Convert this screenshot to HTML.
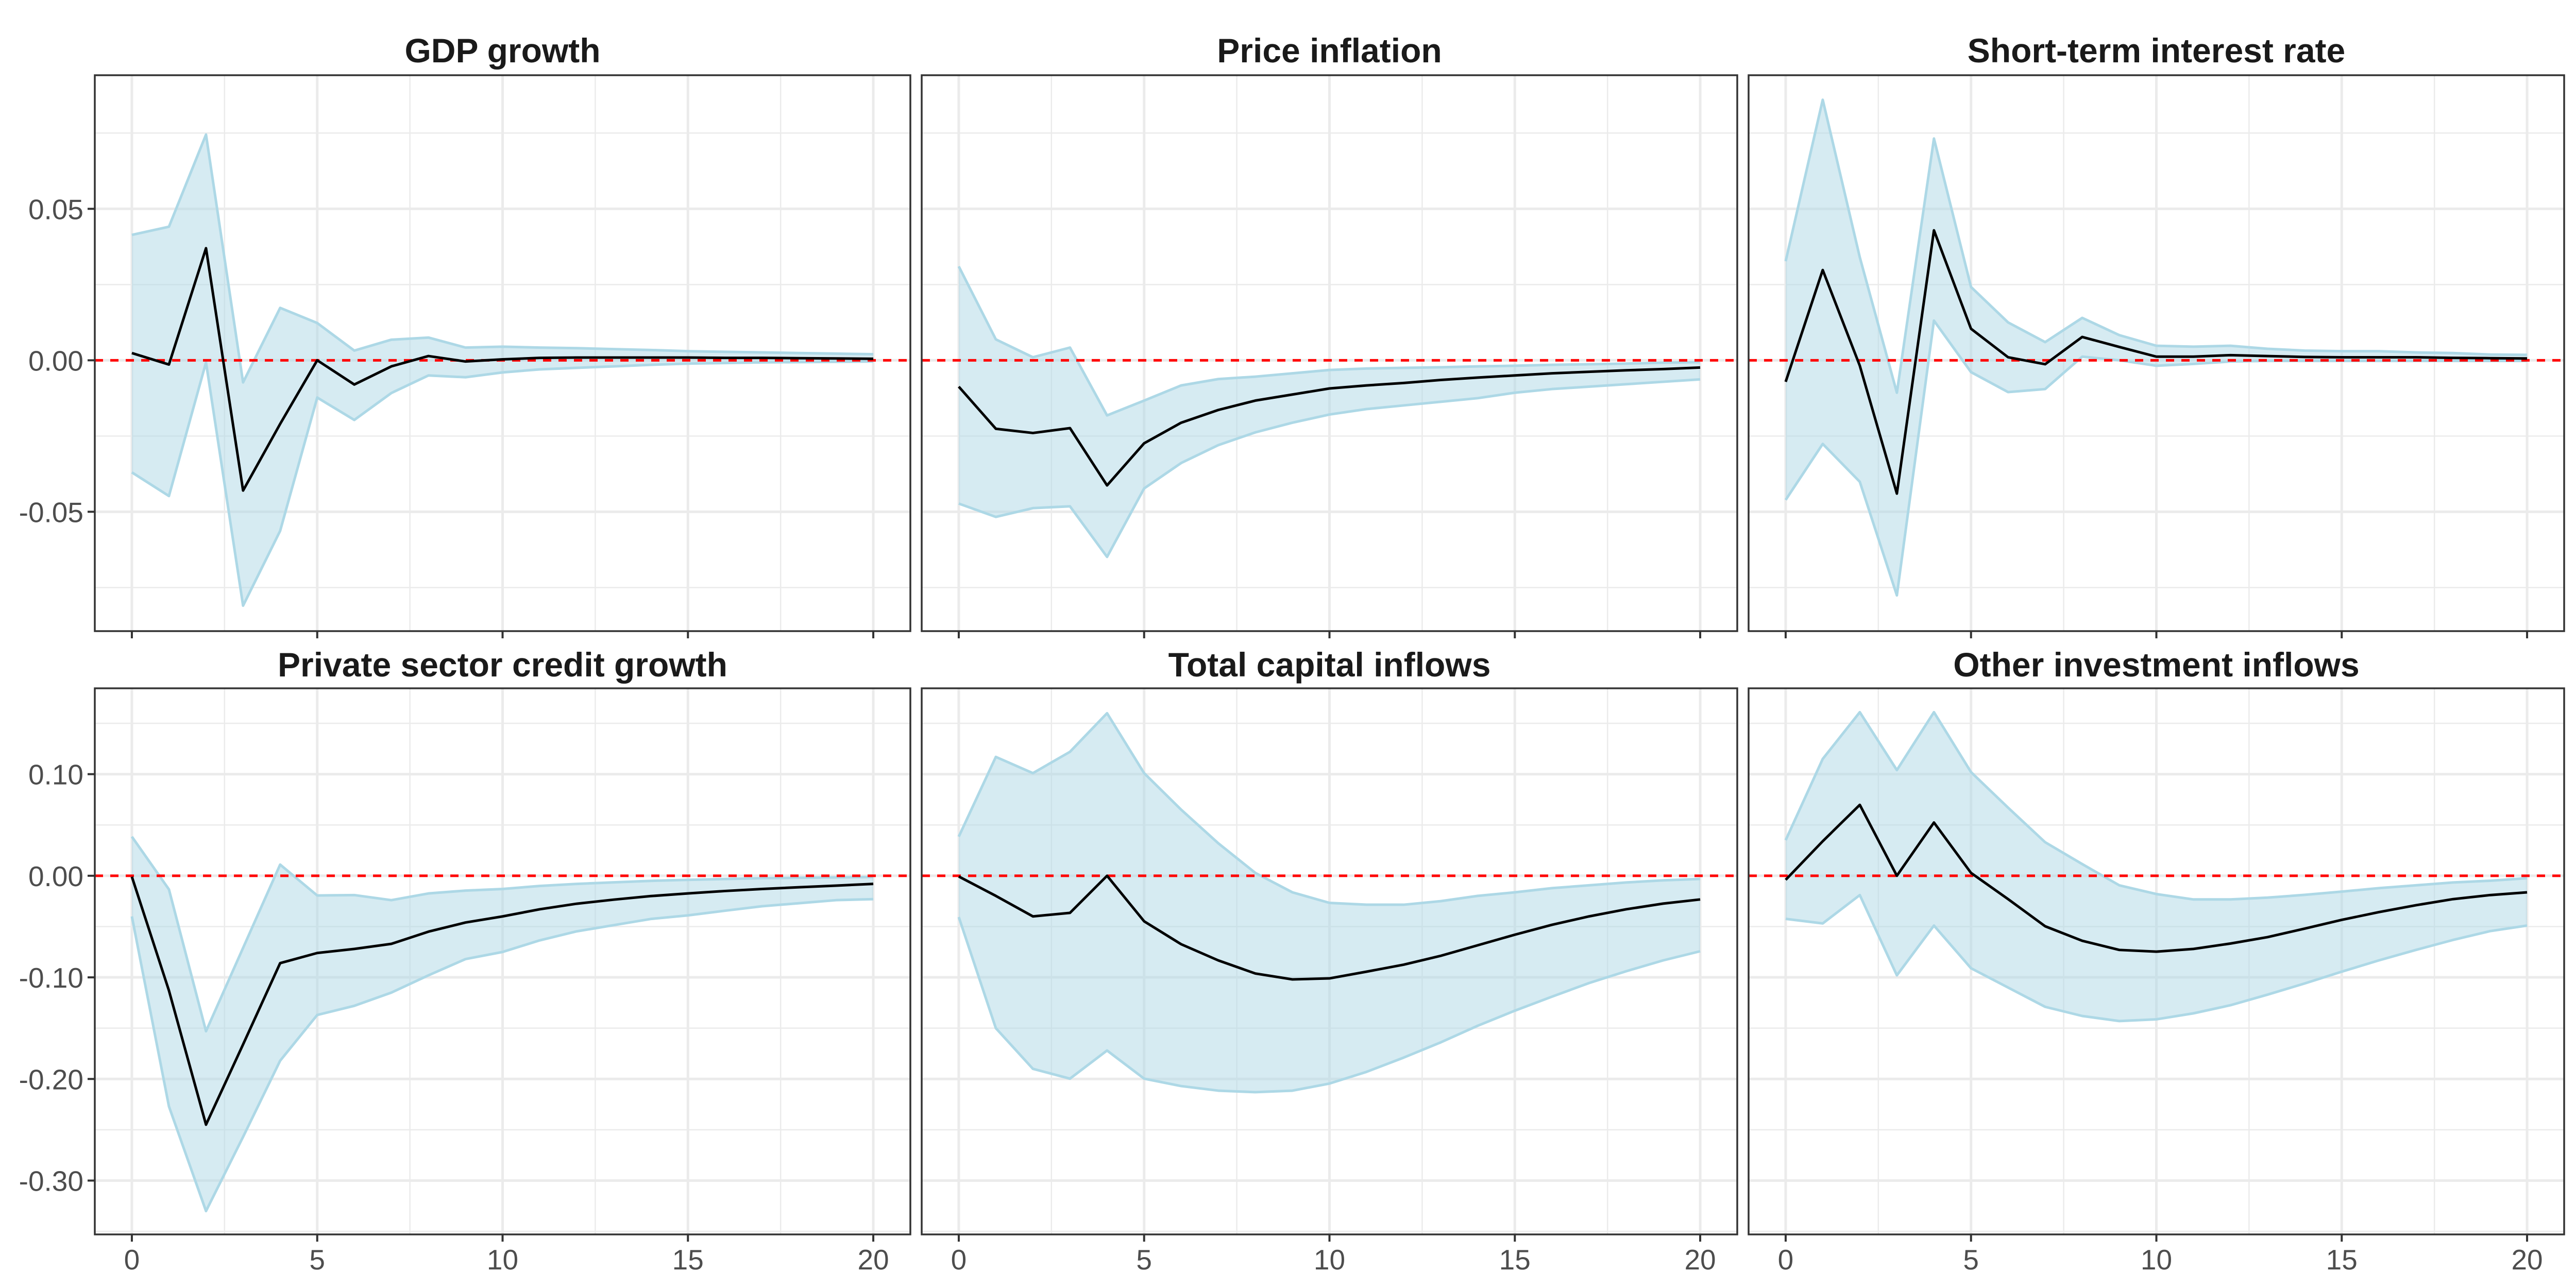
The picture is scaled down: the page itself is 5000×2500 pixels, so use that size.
<!DOCTYPE html>
<html><head><meta charset="utf-8"><style>
html,body{margin:0;padding:0;background:#fff;}
svg{display:block;}
</style></head><body>
<svg id="chart" width="5000" height="2500" viewBox="0 0 5000 2500" xmlns="http://www.w3.org/2000/svg" font-family="'Liberation Sans', sans-serif"></svg>
<script>
const horizons = [0,1,2,3,4,5,6,7,8,9,10,11,12,13,14,15,16,17,18,19,20];
const panelTitles = ["GDP growth","Price inflation","Short-term interest rate","Private sector credit growth","Total capital inflows","Other investment inflows"];
const xTicks = [0,5,10,15,20];
const xTickLabels = ["0","5","10","15","20"];
const topYTicks = [-0.05,0,0.05];
const topYTickLabels = ["-0.05","0.00","0.05"];
const bottomYTicks = [-0.3,-0.2,-0.1,0,0.1];
const bottomYTickLabels = ["-0.30","-0.20","-0.10","0.00","0.10"];

const gdpMid = [0.0024,-0.0014,0.037,-0.043,-0.021,0,-0.008,-0.002,0.0014,-0.0004,0.0003,0.0008,0.0009,0.0009,0.0009,0.0009,0.0008,0.0008,0.0007,0.0006,0.0005];
const gdpUp = [0.0414,0.0441,0.0745,-0.0073,0.0173,0.0123,0.0032,0.0068,0.0075,0.0042,0.0045,0.0042,0.004,0.0037,0.0034,0.003,0.0028,0.0026,0.0024,0.0022,0.002];
const gdpLo = [-0.037,-0.0448,-0.0007,-0.081,-0.0563,-0.0123,-0.0197,-0.0108,-0.005,-0.0056,-0.004,-0.003,-0.0025,-0.002,-0.0015,-0.0011,-0.0009,-0.0007,-0.0006,-0.0005,-0.0004];

const infMid = [-0.0087,-0.0226,-0.024,-0.0224,-0.0413,-0.0274,-0.0206,-0.0164,-0.0133,-0.0113,-0.0093,-0.0083,-0.0075,-0.0065,-0.0057,-0.005,-0.0043,-0.0038,-0.0033,-0.0029,-0.0024];
const infUp = [0.031,0.0069,0.001,0.0042,-0.0182,-0.0133,-0.0083,-0.0062,-0.0054,-0.0043,-0.0032,-0.0027,-0.0025,-0.0023,-0.002,-0.0018,-0.0015,-0.0013,-0.0011,-0.0008,-0.0006];
const infLo = [-0.0473,-0.0517,-0.0488,-0.0482,-0.0649,-0.0423,-0.0339,-0.028,-0.0238,-0.0206,-0.0179,-0.0161,-0.0149,-0.0137,-0.0125,-0.0107,-0.0095,-0.0087,-0.0079,-0.0071,-0.0063];

const rateMid = [-0.0071,0.0298,-0.0018,-0.044,0.0429,0.0104,0.001,-0.0013,0.0077,0.0044,0.0012,0.0012,0.0017,0.0014,0.0011,0.001,0.001,0.001,0.0008,0.0007,0.0006];
const rateUp = [0.0327,0.086,0.034,-0.0107,0.0732,0.0242,0.0125,0.006,0.014,0.0083,0.0048,0.0045,0.0048,0.0038,0.0032,0.003,0.003,0.0026,0.0024,0.0019,0.0018];
const rateLo = [-0.0461,-0.0276,-0.0401,-0.0776,0.0131,-0.0039,-0.0105,-0.0095,0.0012,0,-0.0018,-0.0012,-0.0004,-0.0002,-0.0002,-0.0002,-0.0002,-0.0002,-0.0002,-0.0002,-0.0002];

const creditMid = [-0.001,-0.113,-0.245,-0.166,-0.086,-0.076,-0.072,-0.067,-0.055,-0.046,-0.040,-0.033,-0.0275,-0.0235,-0.020,-0.0174,-0.015,-0.013,-0.0113,-0.0097,-0.008];
const creditUp = [0.0385,-0.0134,-0.153,-0.071,0.011,-0.0194,-0.019,-0.024,-0.0174,-0.0146,-0.013,-0.010,-0.008,-0.0065,-0.005,-0.004,-0.0032,-0.0024,-0.002,-0.0016,-0.0012];
const creditLo = [-0.040,-0.227,-0.33,-0.257,-0.182,-0.137,-0.128,-0.115,-0.098,-0.082,-0.075,-0.0636,-0.0547,-0.0486,-0.0425,-0.039,-0.0344,-0.030,-0.027,-0.024,-0.023];

const totalMid = [-0.0007,-0.0198,-0.040,-0.0365,0,-0.0448,-0.0674,-0.0833,-0.0962,-0.102,-0.101,-0.0944,-0.0875,-0.0788,-0.0684,-0.058,-0.0483,-0.040,-0.033,-0.0274,-0.0233];
const totalUp = [0.0385,0.117,0.101,0.122,0.160,0.101,0.065,0.032,0.0028,-0.0163,-0.0267,-0.0285,-0.0285,-0.025,-0.0198,-0.0163,-0.0122,-0.0094,-0.0066,-0.0045,-0.0031];
const totalLo = [-0.0406,-0.150,-0.19,-0.1997,-0.172,-0.1997,-0.207,-0.2115,-0.213,-0.2115,-0.2045,-0.193,-0.179,-0.164,-0.1476,-0.1328,-0.119,-0.1056,-0.094,-0.0833,-0.0743];

const otherMid = [-0.004,0.034,0.0698,0,0.0524,0.0028,-0.023,-0.0497,-0.064,-0.073,-0.0747,-0.072,-0.0667,-0.0604,-0.052,-0.0434,-0.0358,-0.029,-0.023,-0.019,-0.0163];
const otherUp = [0.035,0.115,0.161,0.104,0.161,0.102,0.067,0.033,0.0115,-0.0094,-0.018,-0.0233,-0.0233,-0.0215,-0.0188,-0.0156,-0.0122,-0.0094,-0.0066,-0.0049,-0.0024];
const otherLo = [-0.0424,-0.0469,-0.019,-0.098,-0.049,-0.091,-0.110,-0.129,-0.138,-0.143,-0.1413,-0.1354,-0.1274,-0.117,-0.106,-0.0944,-0.0833,-0.073,-0.0632,-0.0545,-0.049];

const mids = [gdpMid,infMid,rateMid,creditMid,totalMid,otherMid];
const ups = [gdpUp,infUp,rateUp,creditUp,totalUp,otherUp];
const los = [gdpLo,infLo,rateLo,creditLo,totalLo,otherLo];

const NS = "http://www.w3.org/2000/svg";
const svg = document.getElementById("chart");
function mk(tag, attrs, parent) {
  const e = document.createElementNS(NS, tag);
  for (const k in attrs) e.setAttribute(k, attrs[k]);
  (parent || svg).appendChild(e);
  return e;
}
const panelX = [184, 1789, 3394];
const panelW = 1583;
const rows = [
  {top:146, bot:1225, dmin:-0.0894, dmax:0.0941, ticks:topYTicks, labels:topYTickLabels, titleY:121},
  {top:1336, bot:2396, dmin:-0.353, dmax:0.1845, ticks:bottomYTicks, labels:bottomYTickLabels, titleY:1313}
];

for (let p = 0; p < 6; p++) {
  const r = rows[Math.floor(p/3)];
  const col = p % 3;
  const x0 = panelX[col], x1 = x0 + panelW;
  const xs = v => x0 + panelW * (v + 1) / 22;
  const ys = v => r.bot - (v - r.dmin) / (r.dmax - r.dmin) * (r.bot - r.top);
  const g = mk("g", {});
  
  
  mk("rect", {x:x0, y:r.top, width:panelW, height:r.bot-r.top, fill:"#fff"}, g);
  for (let i = 0; i < r.ticks.length - 1; i++) {
    const m = (r.ticks[i] + r.ticks[i+1]) / 2;
    mk("line", {x1:x0, x2:x1, y1:ys(m), y2:ys(m), stroke:"#ebebeb", "stroke-width":2.5}, g);
  }
  const lowM = r.ticks[0] - (r.ticks[1]-r.ticks[0])/2, hiM = r.ticks[r.ticks.length-1] + (r.ticks[1]-r.ticks[0])/2;
  [lowM, hiM].forEach(m => { if (ys(m) > r.top && ys(m) < r.bot) mk("line", {x1:x0, x2:x1, y1:ys(m), y2:ys(m), stroke:"#ebebeb", "stroke-width":2.5}, g); });
  for (let i = 0; i < xTicks.length - 1; i++) {
    const m = (xTicks[i] + xTicks[i+1]) / 2;
    mk("line", {x1:xs(m), x2:xs(m), y1:r.top, y2:r.bot, stroke:"#ebebeb", "stroke-width":2.5}, g);
  }
  r.ticks.forEach(t => mk("line", {x1:x0, x2:x1, y1:ys(t), y2:ys(t), stroke:"#ebebeb", "stroke-width":5}, g));
  xTicks.forEach(t => mk("line", {x1:xs(t), x2:xs(t), y1:r.top, y2:r.bot, stroke:"#ebebeb", "stroke-width":5}, g));
  const up = ups[p], lo = los[p], mid = mids[p];
  let d = "M" + horizons.map((h,i) => xs(h).toFixed(1) + "," + ys(up[i]).toFixed(1)).join(" L");
  d += " L" + horizons.slice().reverse().map((h,j) => { const i = horizons.length-1-j; return xs(h).toFixed(1) + "," + ys(lo[i]).toFixed(1); }).join(" L") + " Z";
  const rib = mk("path", {d:d, fill:"#add8e6", "fill-opacity":0.5, stroke:"none"}, g);
  
  
  const upl = mk("polyline", {points: horizons.map((h,i)=>xs(h)+","+ys(up[i])).join(" "), fill:"none", stroke:"#add8e6", "stroke-width":5, "stroke-linejoin":"round"}, g);
  
  
  const lol = mk("polyline", {points: horizons.map((h,i)=>xs(h)+","+ys(lo[i])).join(" "), fill:"none", stroke:"#add8e6", "stroke-width":5, "stroke-linejoin":"round"}, g);
  
  
  const zl = mk("line", {x1:x0, x2:x1, y1:ys(0), y2:ys(0), stroke:"#ff0000", "stroke-width":5, "stroke-dasharray":"16,14"}, g);
  
  
  const ml = mk("polyline", {points: horizons.map((h,i)=>xs(h)+","+ys(mid[i])).join(" "), fill:"none", stroke:"#000", "stroke-width":5, "stroke-linejoin":"round"}, g);
  
  
  mk("rect", {x:x0, y:r.top, width:panelW, height:r.bot-r.top, fill:"none", stroke:"#333", "stroke-width":3.5}, g);
  xTicks.forEach(t => mk("line", {x1:xs(t), x2:xs(t), y1:r.bot, y2:r.bot+14, stroke:"#333", "stroke-width":4}, g));
  if (r === rows[1]) {
    xTicks.forEach((t,i) => {
      const tx = mk("text", {x:xs(t), y:2464, "text-anchor":"middle", "font-size":55, fill:"#4d4d4d"}, g);
      tx.textContent = xTickLabels[i];
      
      
    });
  }
  if (col === 0) {
    r.ticks.forEach((t,i) => {
      mk("line", {x1:x0-14, x2:x0, y1:ys(t), y2:ys(t), stroke:"#333", "stroke-width":4}, g);
      const tx = mk("text", {x:x0-22, y:ys(t)+20, "text-anchor":"end", "font-size":55, fill:"#4d4d4d"}, g);
      tx.textContent = r.labels[i];
      
      
    });
  }
  const title = mk("text", {x:x0 + panelW/2, y:r.titleY, "text-anchor":"middle", "font-size":66, "font-weight":"bold", fill:"#1a1a1a"}, g);
  title.textContent = panelTitles[p];
  
  
}
</script>
</body></html>
